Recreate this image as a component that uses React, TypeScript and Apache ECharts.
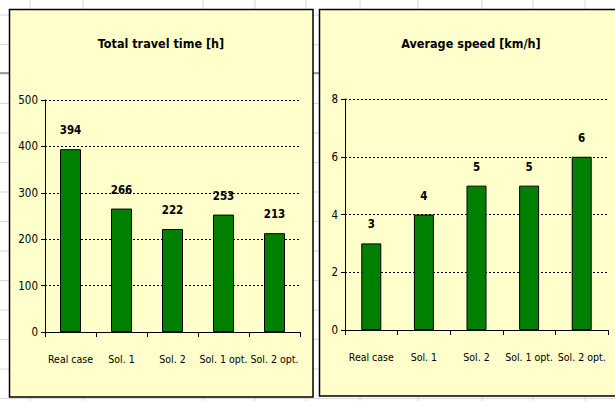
import React, { useEffect, useRef } from "react";
import * as echarts from "echarts";

const categories = ["Real case", "Sol. 1", "Sol. 2", "Sol. 1 opt.", "Sol. 2 opt."];
const travelTime = [394, 266, 222, 253, 213];
const avgSpeed = [3, 4, 5, 5, 6];
const titles = ["Total travel time [h]", "Average speed [km/h]"];

const FONT = "'DejaVu Sans Condensed', 'Liberation Sans Narrow', sans-serif";

function yAxis(gridIndex: number, max: number, interval: number) {
  return {
    type: "value",
    gridIndex,
    min: 0,
    max,
    interval,
    axisLine: { show: true, lineStyle: { color: "#000", width: 1 } },
    axisTick: { show: true, length: 4, inside: false, lineStyle: { color: "#000" } },
    axisLabel: { color: "#000", fontFamily: FONT, fontSize: 11.5, margin: 7 },
    splitLine: { show: true, lineStyle: { color: "#000", type: [2, 2], width: 1 } },
  };
}

function xAxis(gridIndex: number) {
  return {
    type: "category",
    gridIndex,
    data: categories,
    axisLine: { show: true, lineStyle: { color: "#000", width: 1 } },
    axisTick: { show: true, length: 5, lineStyle: { color: "#000" } },
    axisLabel: { color: "#000", fontFamily: FONT, fontSize: 10.5, margin: 21, interval: 0 },
  };
}

function barSeries(idx: number, data: number[], width: number) {
  return {
    type: "bar",
    xAxisIndex: idx,
    yAxisIndex: idx,
    data,
    barWidth: width,
    itemStyle: { color: "#008000", borderColor: "#000", borderWidth: 1 },
    label: {
      show: true,
      position: "top",
      distance: 13,
      color: "#000",
      fontFamily: FONT,
      fontSize: 11.5,
      fontWeight: "bold",
    },
  };
}

export default function App() {
  const ref = useRef<HTMLDivElement>(null);
  useEffect(() => {
    if (!ref.current) return;
    const chart = echarts.init(ref.current, null, { renderer: "svg" });
    const bgLines: any[] = [];
    const colXs = [30, 83, 203, 255, 306, 360, 418, 482, 533, 585];
    colXs.forEach((x) =>
      bgLines.push({ type: "line", z: -10, shape: { x1: x, y1: 0, x2: x, y2: 401 }, style: { stroke: "#d8d8d8", lineWidth: 1 } })
    );
    for (let y = 15; y < 401; y += 29.5) {
      bgLines.push({ type: "line", z: -10, shape: { x1: 0, y1: y, x2: 615, y2: y }, style: { stroke: "#d8d8d8", lineWidth: 1 } });
    }
    chart.setOption({
      animation: false,
      backgroundColor: "#fff",
      graphic: [
        ...bgLines,
        { type: "line", z: -9, shape: { x1: 0, y1: 73, x2: 615, y2: 73 }, style: { stroke: "#444", lineWidth: 1 } },
        {
          type: "rect",
          z: -5,
          shape: { x: 9.5, y: 9.5, width: 303.5, height: 387.5 },
          style: { fill: "#FFFFCC", stroke: "#000", lineWidth: 1.5 },
        },
        {
          type: "rect",
          z: -5,
          shape: { x: 319.5, y: 9.5, width: 300, height: 386.5 },
          style: { fill: "#FFFFCC", stroke: "#000", lineWidth: 1.5 },
        },
        {
          type: "text",
          x: 161,
          y: 43,
          style: { text: titles[0], fill: "#000", fontFamily: FONT, fontSize: 12.5, fontWeight: "bold", align: "center", verticalAlign: "middle" },
        },
        {
          type: "text",
          x: 471,
          y: 43,
          style: { text: titles[1], fill: "#000", fontFamily: FONT, fontSize: 12.5, fontWeight: "bold", align: "center", verticalAlign: "middle" },
        },
      ],
      grid: [
        { left: 45, right: 315, top: 100, bottom: 69, containLabel: false },
        { left: 345, right: 7, top: 99, bottom: 71, containLabel: false },
      ],
      xAxis: [xAxis(0), xAxis(1)],
      yAxis: [yAxis(0, 500, 100), yAxis(1, 8, 2)],
      series: [barSeries(0, travelTime, 21), barSeries(1, avgSpeed, 20)],
    });
    return () => chart.dispose();
  }, []);
  return <div ref={ref} style={{ position: "fixed", left: 0, top: 0, width: 615, height: 401 }} />;
}
